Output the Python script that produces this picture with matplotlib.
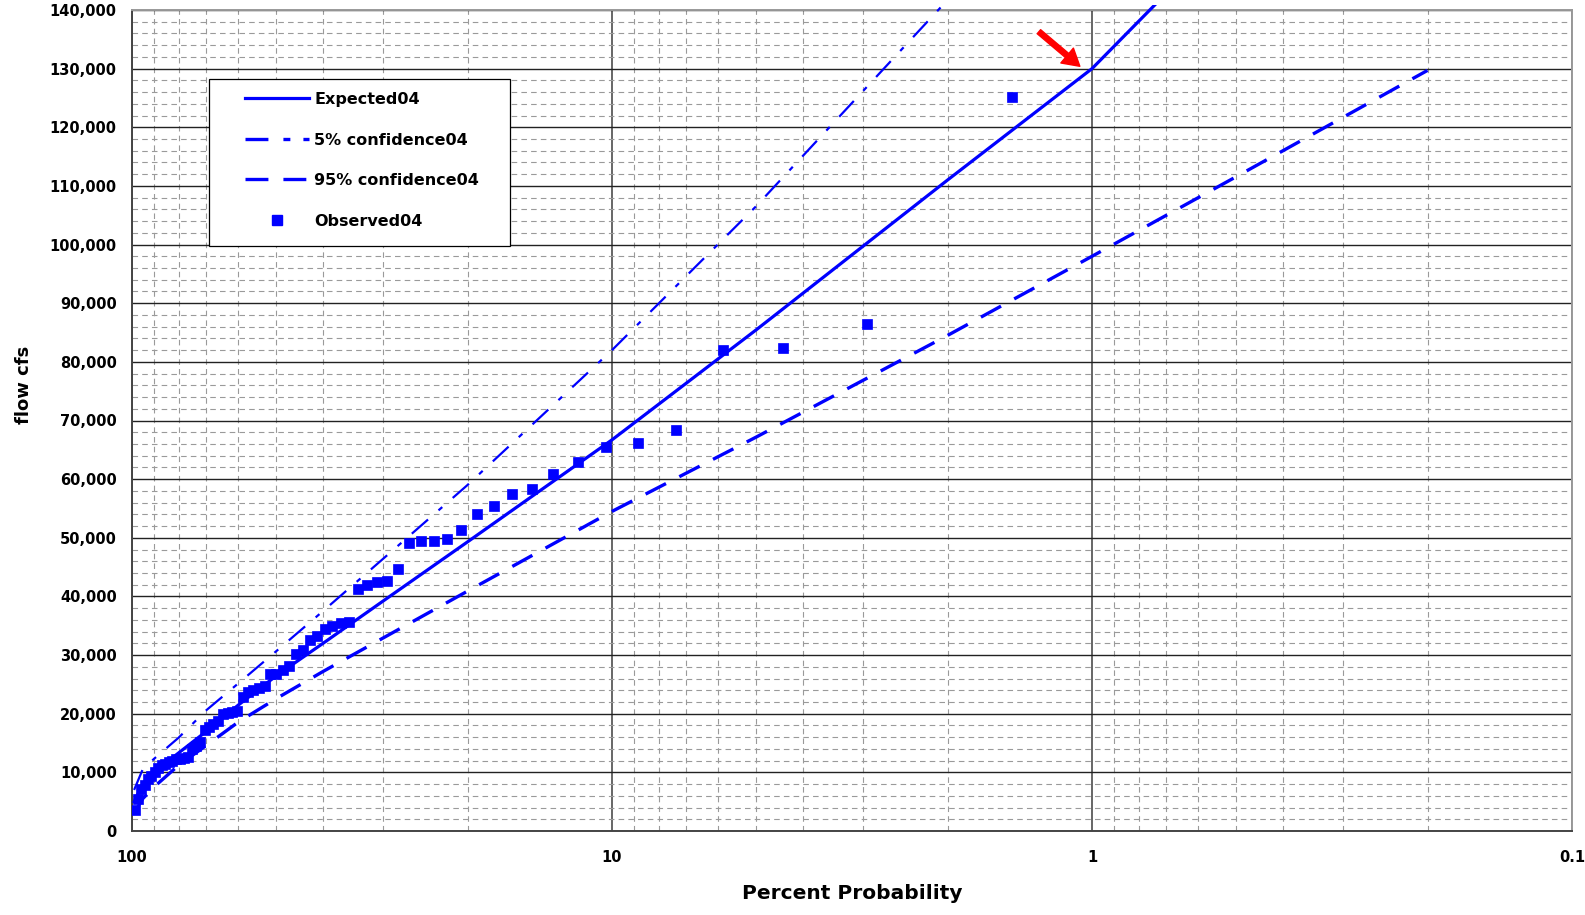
import matplotlib
matplotlib.use("Agg")
import matplotlib.pyplot as plt
from matplotlib.lines import Line2D
from matplotlib.patches import Rectangle
from matplotlib.ticker import FixedLocator, FixedFormatter, FuncFormatter, MultipleLocator, LogLocator, NullFormatter
from matplotlib.transforms import Bbox, TransformedBbox

plt.rcParams["font.family"] = ["DejaVu Sans"]
plt.rcParams["font.weight"] = "bold"
plt.rcParams["axes.labelweight"] = "bold"
plt.rcParams["lines.scale_dashes"] = False

BLUE = "#0000ff"
W, H = 1585, 915

# frequency curves: percent exceedance probability vs flow (cfs)
expected_pct = [99, 95, 90, 80, 70, 60, 50, 40, 30, 20, 10, 5, 2, 1, 0.5]
expected_q = [5000, 8000, 10000, 13300, 17000, 21500, 26500, 32000, 39200, 49300, 66700, 85500, 111000, 130000, 155000]

conf05_pct = [99, 95, 90, 80, 70, 60, 50, 40, 30, 20, 10, 5, 2]
conf05_q = [7000, 10500, 12300, 15900, 20600, 25200, 30700, 37500, 46400, 59000, 82000, 106600, 141700]

conf95_pct = [99, 95, 90, 80, 70, 60, 50, 40, 30, 20, 10, 5, 2, 1, 0.5, 0.2]
conf95_q = [3000, 5500, 7500, 11200, 14600, 18600, 22600, 27200, 32900, 40900, 54500, 67200, 84500, 98000, 111600, 129700]

# observed annual peaks (plotting position, flow)
observed_pct = [1.47, 2.94, 4.41, 5.88, 7.35, 8.82, 10.29, 11.76, 13.24, 14.71,
                16.18, 17.65, 19.12, 20.59, 22.06, 23.53, 25.00, 26.47, 27.94, 29.41,
                30.88, 32.35, 33.82, 35.29, 36.76, 38.24, 39.71, 41.18, 42.65, 44.12,
                45.59, 47.06, 48.53, 50.00, 51.47, 52.94, 54.41, 55.88, 57.35, 58.82,
                60.29, 61.76, 63.24, 64.71, 66.18, 67.65, 69.12, 70.59, 72.06, 73.53,
                75.00, 76.47, 77.94, 79.41, 80.88, 82.35, 83.82, 85.29, 86.76, 88.24,
                89.71, 91.18, 92.65, 94.12, 95.59, 97.06, 98.53]
observed_q = [125200, 86500, 82300, 82000, 68300, 66200, 65500, 62900, 60900, 58300,
              57500, 55400, 54100, 51400, 49800, 49400, 49400, 49100, 44600, 42700,
              42500, 42000, 41300, 35600, 35400, 34900, 34400, 33200, 32500, 30900,
              30200, 28200, 27500, 26800, 26700, 24700, 24400, 24100, 23700, 22900,
              20500, 20300, 20200, 19900, 18700, 18200, 17700, 17200, 15200, 14500,
              13900, 12600, 12500, 12300, 12200, 12000, 11700, 11500, 11200, 10800,
              10000, 9400, 8800, 7800, 7200, 5500, 3600]

x_ticks = [100, 10, 1, 0.1]
x_tick_labels = ["100", "10", "1", "0.1"]

fig = plt.figure(figsize=(W / 100, H / 100), dpi=100)
ax = fig.add_axes([132 / W, 1 - 831 / H, 1440 / W, 821 / H])

ax.set_xscale("log")
ax.set_xlim(100, 0.1)
ax.set_ylim(0, 140000)

ax.xaxis.set_major_locator(FixedLocator(x_ticks))
ax.xaxis.set_major_formatter(FixedFormatter(x_tick_labels))
ax.xaxis.set_minor_locator(LogLocator(base=10, subs=range(2, 10)))
ax.xaxis.set_minor_formatter(NullFormatter())
ax.yaxis.set_major_locator(MultipleLocator(10000))
ax.yaxis.set_minor_locator(MultipleLocator(2000))
ax.yaxis.set_major_formatter(FuncFormatter(lambda v, _: f"{int(v):,}"))

ax.tick_params(which="both", length=0)
ax.tick_params(axis="y", labelsize=10.5, pad=11)
ax.tick_params(axis="x", labelsize=10.5, pad=14)

ax.xaxis.grid(True, which="minor", color="#9a9a9a", lw=0.8, ls=(0, (4, 3)))
ax.yaxis.grid(True, which="minor", color="#9a9a9a", lw=0.8, ls=(0, (4, 3)))
ax.xaxis.grid(True, which="major", color="#666666", lw=1.4)
ax.yaxis.grid(True, which="major", color="#222222", lw=1.0)
ax.set_axisbelow(True)

for side in ("left", "bottom"):
    ax.spines[side].set_color("#444444")
    ax.spines[side].set_linewidth(1.4)
for side in ("top", "right"):
    ax.spines[side].set_color("#999999")
    ax.spines[side].set_linewidth(1.4)

# lines may run a few pixels over the top of the plot area, as in the original
clip = TransformedBbox(Bbox([[0, 0], [1, 1 + 5 / 821]]), ax.transAxes)

l1, = ax.plot(expected_pct, expected_q, color=BLUE, lw=2.3, zorder=3)
l2, = ax.plot(conf05_pct, conf05_q, color=BLUE, lw=1.6, dashes=(15.5, 10, 3.6, 10), zorder=3)
l3, = ax.plot(conf95_pct, conf95_q, color=BLUE, lw=2.4, dashes=(16.5, 10.8), zorder=3)
for ln in (l1, l2, l3):
    ln.set_clip_box(clip)
ax.plot(observed_pct, observed_q, ls="none", marker="s", ms=6.8, color=BLUE,
        mec=BLUE, mew=0.5, zorder=4)

ax.annotate("", xy=(1.06, 130400), xytext=(1.29, 136300),
            arrowprops=dict(facecolor="red", edgecolor="red", width=3.8,
                            headwidth=14, headlength=12, shrink=0))

ax.set_xlabel("Percent Probability", fontsize=14.5, fontweight="bold", va="center")
ax.xaxis.set_label_coords(0.5, -0.0766)
ax.set_ylabel("flow cfs", fontsize=13, fontweight="bold", va="center")
ax.yaxis.set_label_coords(-0.075, 0.544)

# legend box
fig.patches.append(Rectangle((209 / W, 1 - 246 / H), (510 - 209) / W, (246 - 79) / H,
                             transform=fig.transFigure, facecolor="white",
                             edgecolor="#000000", lw=0.9, zorder=2))
handles = [
    Line2D([], [], color=BLUE, lw=2.3),
    Line2D([], [], color=BLUE, lw=2.4, dashes=(16.5, 10.8, 5, 9.4, 5, 9.4)),
    Line2D([], [], color=BLUE, lw=2.4, dashes=(16.5, 10.8)),
    Line2D([], [], ls="none", marker="s", ms=6.8, color=BLUE),
]
labels = ["Expected04", "5% confidence04", "95% confidence04", "Observed04"]
fs = 11.5
fs_px = fs * 100 / 72
fig.legend(handles, labels, loc="upper left", bbox_to_anchor=(245 / W, 1 - 92 / H),
           frameon=False, borderpad=0, borderaxespad=0, fontsize=fs,
           handlelength=64 / fs_px, handletextpad=5 / fs_px,
           labelspacing=(41 - 1.17 * fs_px) / fs_px + 0.2, numpoints=1)

fig.savefig("out.png", dpi=100)
